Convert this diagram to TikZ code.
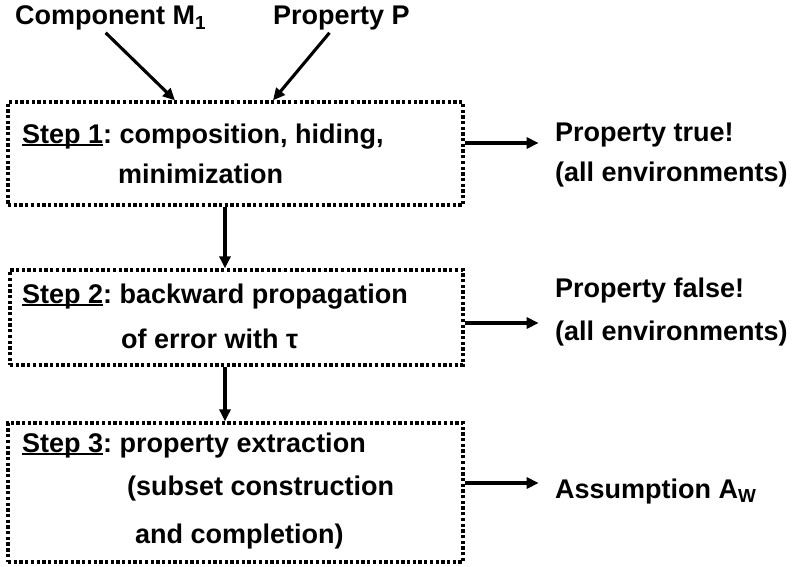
\documentclass[tikz,border=0pt]{standalone}
\usepackage{fontspec}
\setmainfont{Liberation Sans}
\usetikzlibrary{arrows.meta}
% underlined step heading with a heavier rule set close to the baseline
\newcommand\stephead[1]{\leavevmode\rlap{\rule[-2.5pt]{\widthof{#1}}{2pt}}#1}
\usepackage{calc}
\begin{document}
\begin{tikzpicture}[x=1pt,y=-1pt,
  font=\fontsize{27}{31}\selectfont\bfseries\frenchspacing,
  stepbox/.style={draw, rectangle, inner sep=0pt, line width=3.3pt,
    dash pattern=on 3.3pt off 2.4pt},
  txt/.style={anchor=base west, inner sep=0pt},
  arr/.style={line width=3.1pt, -{Triangle[length=12pt,width=11pt]}}]
\useasboundingbox (0,0) rectangle (792,567);

% input labels
\node[txt] (m1) at (15,25) {Component M\textsubscript{1}};
\node[txt] (pp) at (273,25) {Property P};

% the three step boxes
\node[stepbox, minimum width=455pt, minimum height=103pt] (s1) at (235.5,153.5) {};
\node[stepbox, minimum width=453pt, minimum height=95pt] (s2) at (236.5,317.5) {};
\node[stepbox, minimum width=455pt, minimum height=139pt] (s3) at (235.5,492.5) {};

% box texts
\node[txt] (t1a) at (22,143) {\stephead{Step 1}: composition, hiding,};
\node[txt] (t1b) at (118,183) {minimization};
\node[txt] (t2a) at (22,303) {\stephead{Step 2}: backward propagation};
\node[txt] (t2b) at (121,348) {of error with τ};
\node[txt] (t3a) at (22,452) {\stephead{Step 3}: property extraction};
\node[txt] (t3b) at (127,495) {(subset construction};
\node[txt] (t3c) at (135,543) {and completion)};

% outcomes
\node[txt] (r1a) at (555,142) {Property true!};
\node[txt] (r1b) at (555,181) {(all environments)};
\node[txt] (r2a) at (555,297) {Property false!};
\node[txt] (r2b) at (555,340) {(all environments)};
\node[txt] (r3) at (555,498) {Assumption A\textsubscript{W}};

% connectors
\draw[arr] ([xshift=-5pt,yshift=-2pt]m1.south) -- ([xshift=-60.5pt]s1.north);
\draw[arr] ([xshift=-12pt,yshift=-2pt]pp.south) -- ([xshift=37.5pt]s1.north);
\draw[arr] ([xshift=-10.5pt]s1.south) -- ([xshift=-11.5pt]s2.north);
\draw[arr] ([xshift=-11.5pt]s2.south) -- ([xshift=-10.5pt]s3.north);
\draw[arr] ([yshift=10.5pt]s1.east) -- ++(74,0);
\draw[arr] ([yshift=-5.5pt]s2.east) -- ++(74,0);
\draw[arr] ([yshift=9.5pt]s3.east) -- ++(74,0);
\end{tikzpicture}
\end{document}
